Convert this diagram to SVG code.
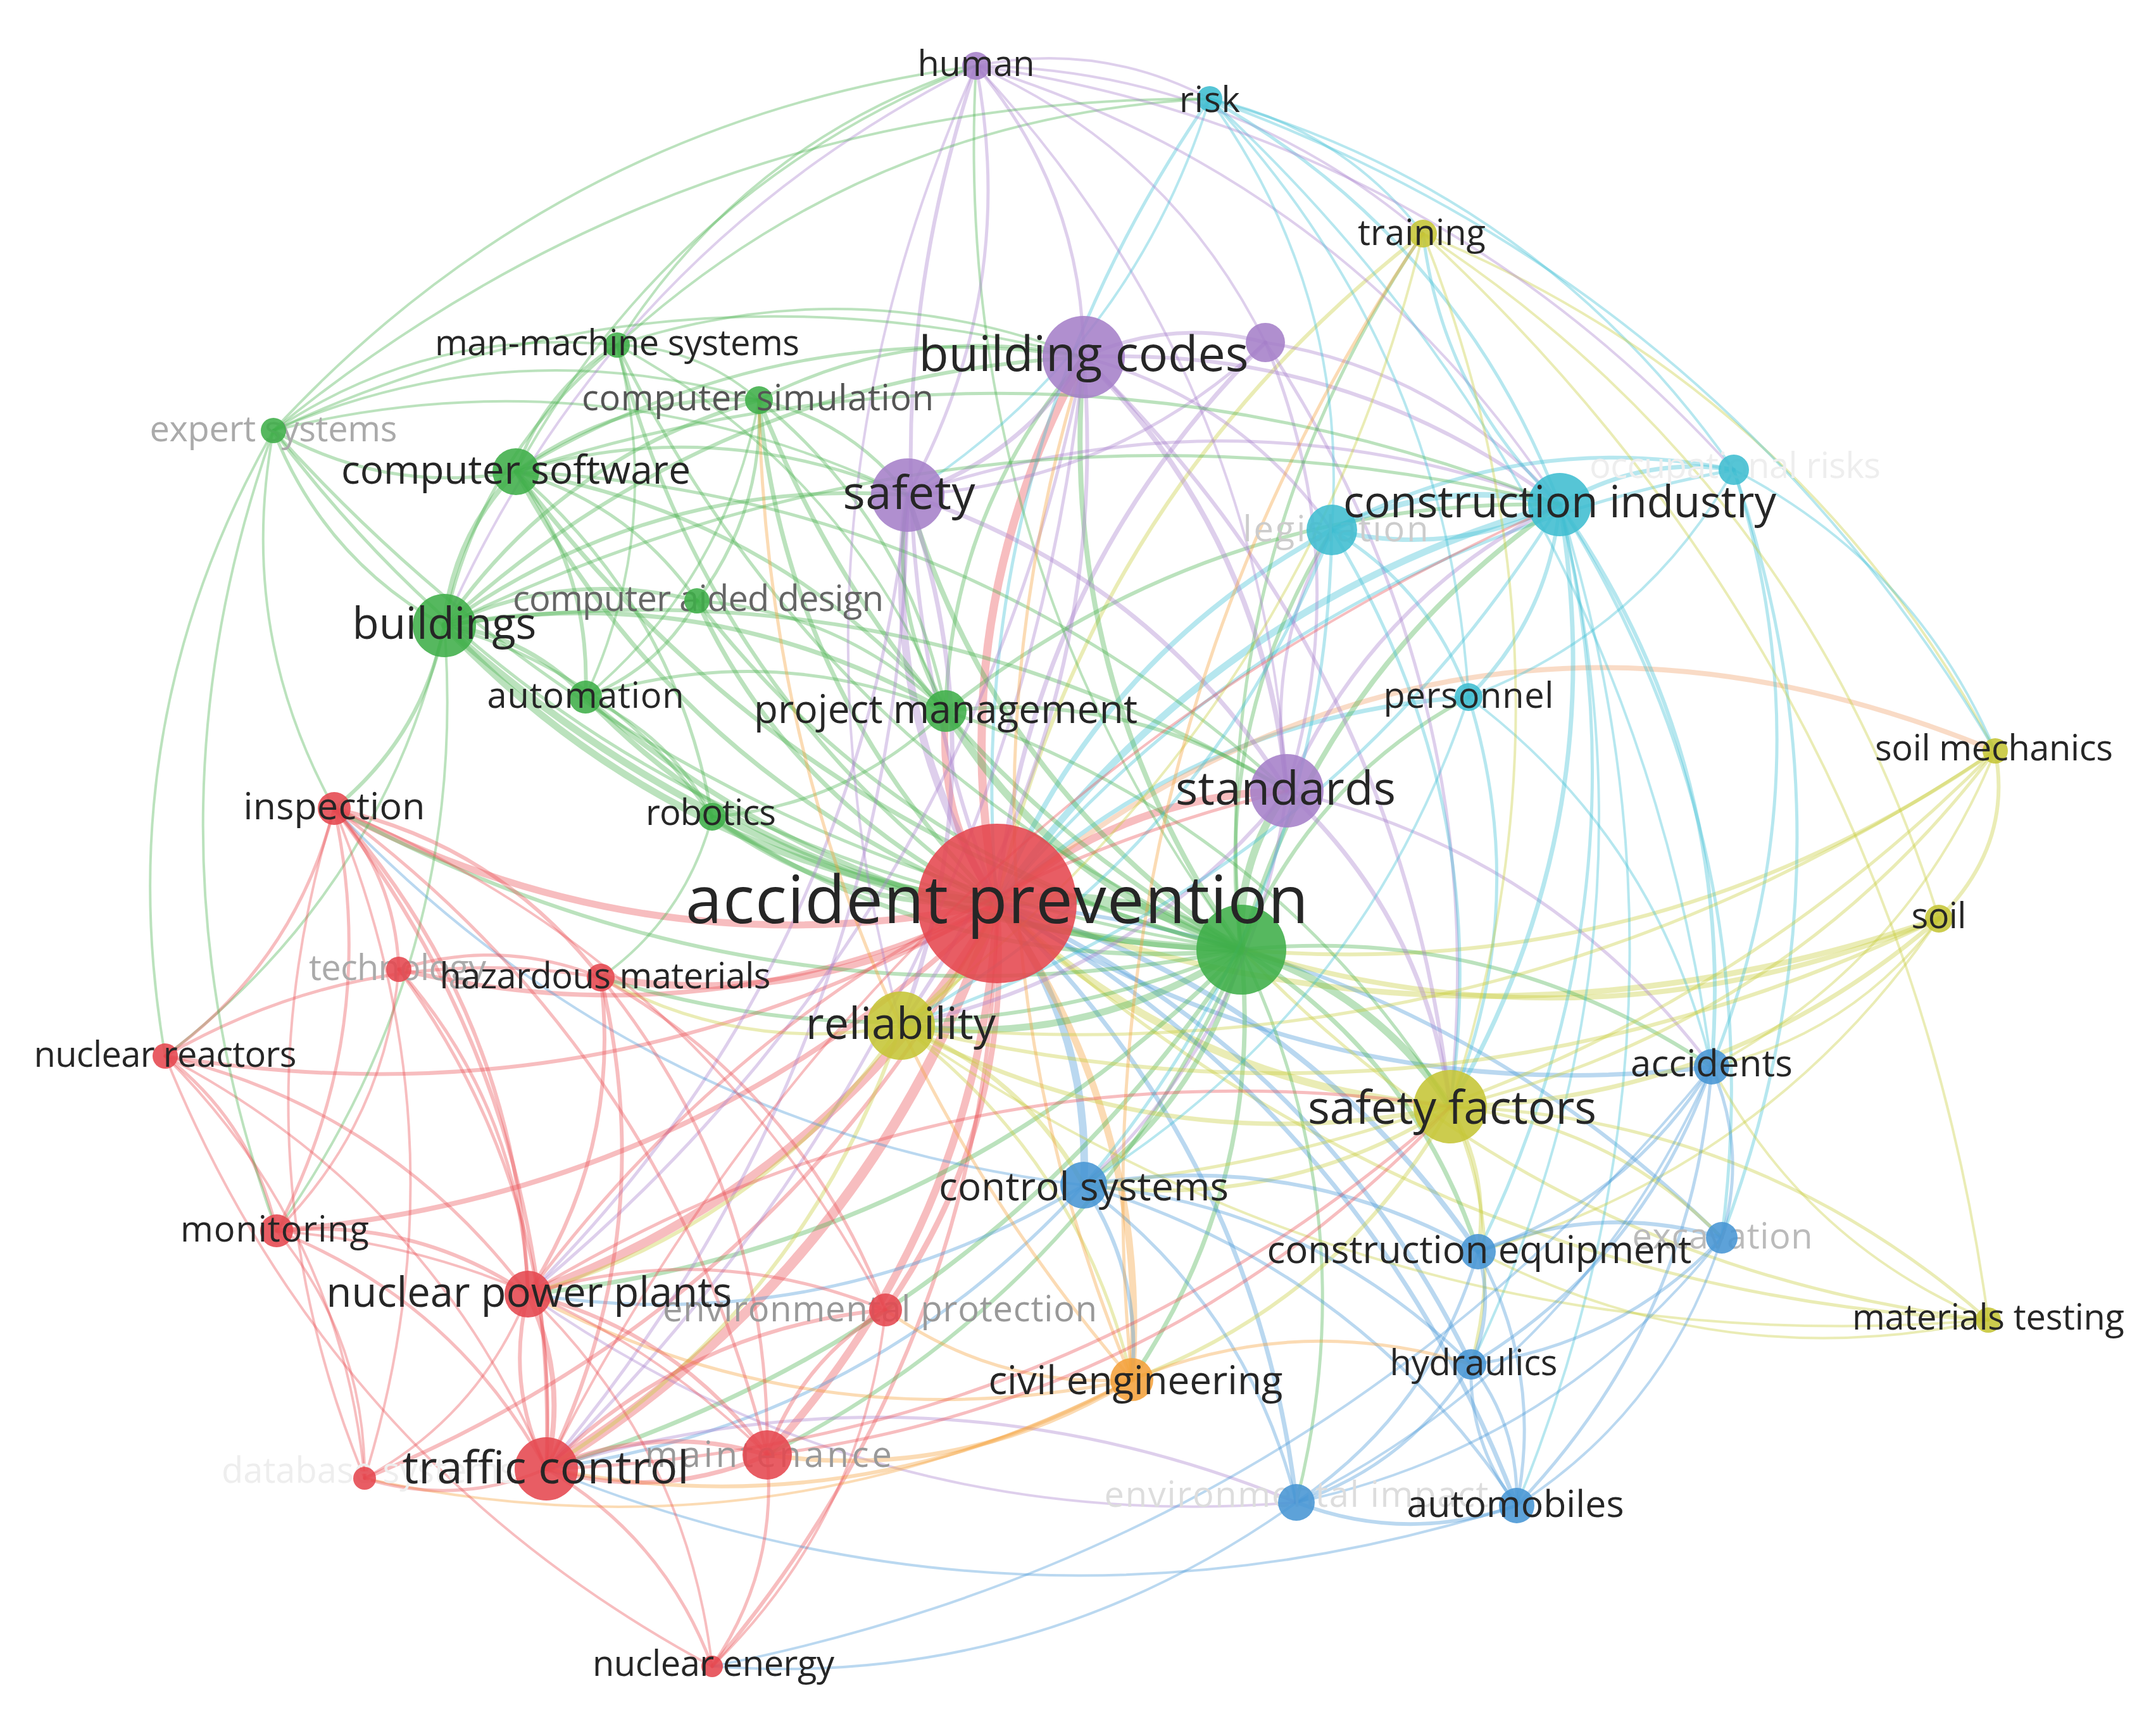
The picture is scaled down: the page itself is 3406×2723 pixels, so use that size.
<svg xmlns="http://www.w3.org/2000/svg" width="3406" height="2723" viewBox="0 0 3406 2723">
<style>
.e path{fill:none;stroke-opacity:.38;stroke-linecap:round}
.e path[stroke-width="2"]{stroke-width:4px}
.e path[stroke-width="3"]{stroke-width:5px}
.e path[stroke-width="4"]{stroke-width:6px}
.e path[stroke-width="5"]{stroke-width:7px}
.e path[stroke-width="6"]{stroke-width:8px}
.e path[stroke-width="7"]{stroke-width:9px}
.e path[stroke-width="8"]{stroke-width:11px}
.e path[stroke-width="9"]{stroke-width:12px}
.e path[stroke-width="10"]{stroke-width:13px}
.e path[stroke-width="11"]{stroke-width:14px}
.e path[stroke-width="12"]{stroke-width:16px}
.e path[stroke-width="14"]{stroke-width:18px}
.er{stroke:#ea5257}.eg{stroke:#4cb352}.eb{stroke:#4a98d8}.ey{stroke:#c9cc3c}.ep{stroke:#a982cc}.ec{stroke:#3fbfd4}.eo{stroke:#f5a03a}
circle{fill-opacity:.88}
.nr{fill:#e5474f}.ng{fill:#3fae49}.np{fill:#a57fc8}.nc{fill:#3fbdd0}.ny{fill:#c5c535}.nb{fill:#4795d4}.no{fill:#f4a03a}
text{font-family:"Open Sans","Liberation Sans",sans-serif;text-anchor:middle;fill:#262626}
.s{font-size:56px}.m{font-size:62px}.l{font-size:72px}
</style>
<rect width="3406" height="2723" fill="#fff"/>
<g id="edges" class="e">
<path class="er" stroke-width="8" d="M1575 1427Q1025 1540 528 1277"/>
<path class="er" stroke-width="5" d="M1575 1427Q1122 1649 630 1531"/>
<path class="er" stroke-width="8" d="M1575 1427Q1283 1598 949 1544"/>
<path class="er" stroke-width="4" d="M1575 1427Q961 1784 261 1668"/>
<path class="er" stroke-width="6" d="M1575 1427Q1099 1890 437 1944"/>
<path class="er" stroke-width="11" d="M1575 1427Q1316 1869 834 2044"/>
<path class="er" stroke-width="7" d="M1575 1427Q1603 1780 1399 2069"/>
<path class="er" stroke-width="12" d="M1575 1427Q1380 2002 863 2320"/>
<path class="er" stroke-width="9" d="M1575 1427Q1550 1928 1212 2298"/>
<path class="er" stroke-width="4" d="M1575 1427Q1239 2061 576 2335"/>
<path class="er" stroke-width="4" d="M1575 1427Q1567 2110 1125 2632"/>
<path class="eg" stroke-width="14" d="M1575 1427Q1781 1394 1961 1500"/>
<path class="eg" stroke-width="8" d="M1575 1427Q1060 1365 702 988"/>
<path class="eg" stroke-width="5" d="M1575 1427Q1072 1223 815 745"/>
<path class="eg" stroke-width="3" d="M1575 1427Q869 1259 432 680"/>
<path class="eg" stroke-width="4" d="M1575 1427Q1116 1094 975 545"/>
<path class="eg" stroke-width="5" d="M1575 1427Q1244 1097 1199 632"/>
<path class="eg" stroke-width="5" d="M1575 1427Q1252 1273 1101 949"/>
<path class="eg" stroke-width="6" d="M1575 1427Q1191 1381 925 1101"/>
<path class="er" stroke-width="8" d="M1575 1427Q1480 1290 1494 1123"/>
<path class="eg" stroke-width="6" d="M1575 1427Q1325 1440 1125 1290"/>
<path class="ep" stroke-width="4" d="M1575 1427Q1320 772 1542 104"/>
<path class="er" stroke-width="10" d="M1575 1427Q1488 971 1712 564"/>
<path class="ep" stroke-width="5" d="M1575 1427Q1628 908 1999 541"/>
<path class="ep" stroke-width="9" d="M1575 1427Q1388 1130 1434 782"/>
<path class="er" stroke-width="9" d="M1575 1427Q1772 1256 2033 1249"/>
<path class="ec" stroke-width="3" d="M1575 1427Q1514 731 1911 156"/>
<path class="ec" stroke-width="3" d="M1575 1427Q2034 875 2739 742"/>
<path class="ec" stroke-width="8" d="M1575 1427Q1906 952 2464 797"/>
<path class="ec" stroke-width="6" d="M1575 1427Q1733 1037 2104 837"/>
<path class="ec" stroke-width="5" d="M1575 1427Q1889 1130 2320 1101"/>
<path class="ey" stroke-width="4" d="M1575 1427Q1721 777 2248 369"/>
<path class="eo" stroke-width="6" style="stroke:#f0a068" d="M1575 1427Q2291 833 3152 1186"/>
<path class="ey" stroke-width="7" d="M3063 1451Q2315 1707 1575 1427"/>
<path class="ey" stroke-width="11" d="M1575 1427Q1534 1551 1423 1620"/>
<path class="ey" stroke-width="9" d="M2291 1748Q1875 1716 1575 1427"/>
<path class="ey" stroke-width="3" d="M3141 2085Q2240 2038 1575 1427"/>
<path class="eb" stroke-width="5" d="M2704 1685Q2093 1759 1575 1427"/>
<path class="eb" stroke-width="9" d="M1575 1427Q1724 1625 1712 1872"/>
<path class="eb" stroke-width="6" d="M1575 1427Q2054 1565 2335 1977"/>
<path class="eb" stroke-width="4" d="M1575 1427Q2243 1485 2720 1955"/>
<path class="eb" stroke-width="5" d="M1575 1427Q2081 1656 2324 2155"/>
<path class="eb" stroke-width="5" d="M1575 1427Q1982 1815 2048 2373"/>
<path class="eb" stroke-width="5" d="M1575 1427Q2157 1755 2396 2378"/>
<path class="eo" stroke-width="8" d="M1575 1427Q1817 1765 1788 2179"/>
<path class="eg" stroke-width="8" d="M1961 1500Q1240 1471 702 988"/>
<path class="eg" stroke-width="5" d="M1961 1500Q1252 1329 815 745"/>
<path class="eg" stroke-width="3" d="M1961 1500Q1049 1365 432 680"/>
<path class="eg" stroke-width="3" d="M1961 1500Q1296 1200 975 545"/>
<path class="eg" stroke-width="5" d="M1961 1500Q1424 1203 1199 632"/>
<path class="eg" stroke-width="4" d="M1961 1500Q1432 1379 1101 949"/>
<path class="eg" stroke-width="6" d="M1961 1500Q1371 1487 925 1101"/>
<path class="eg" stroke-width="9" d="M1961 1500Q1660 1396 1494 1123"/>
<path class="eg" stroke-width="5" d="M1961 1500Q1505 1545 1125 1290"/>
<path class="eg" stroke-width="6" d="M1961 1500Q1668 1077 1712 564"/>
<path class="eg" stroke-width="6" d="M1961 1500Q1568 1236 1434 782"/>
<path class="eg" stroke-width="9" d="M1961 1500Q1952 1362 2033 1249"/>
<path class="eg" stroke-width="6" d="M1961 1500Q2086 1058 2464 797"/>
<path class="eg" stroke-width="4" d="M1961 1500Q1913 1143 2104 837"/>
<path class="eg" stroke-width="4" d="M1961 1500Q2069 1236 2320 1101"/>
<path class="eg" stroke-width="9" d="M1961 1500Q2171 1565 2291 1748"/>
<path class="eg" stroke-width="8" d="M1961 1500Q1714 1657 1423 1620"/>
<path class="ey" stroke-width="6" d="M3063 1451Q2521 1674 1961 1500"/>
<path class="ey" stroke-width="4" d="M3152 1186Q2613 1557 1961 1500"/>
<path class="eg" stroke-width="4" d="M1961 1500Q2366 1459 2704 1685"/>
<path class="eg" stroke-width="6" d="M1961 1500Q1904 1731 1712 1872"/>
<path class="eg" stroke-width="5" d="M1961 1500Q2234 1671 2335 1977"/>
<path class="eg" stroke-width="4" d="M1961 1500Q1204 1647 528 1277"/>
<path class="eg" stroke-width="4" d="M1961 1500Q1463 1704 949 1544"/>
<path class="eg" stroke-width="5" d="M1961 1500Q1495 1975 834 2044"/>
<path class="eg" stroke-width="5" d="M1961 1500Q1560 2108 863 2320"/>
<path class="eg" stroke-width="5" d="M1961 1500Q1997 1871 1788 2179"/>
<path class="eg" stroke-width="2" d="M1961 1500Q1500 877 1542 104"/>
<path class="eg" stroke-width="3" d="M1961 1500Q1901 883 2248 369"/>
<path class="ey" stroke-width="3" d="M3141 2085Q2446 2005 1961 1500"/>
<path class="eg" stroke-width="4" d="M1961 1500Q1730 2034 1212 2298"/>
<path class="eg" stroke-width="3" d="M1961 1500Q2162 1921 2048 2373"/>
<path class="eg" stroke-width="6" d="M702 988Q715 847 815 745"/>
<path class="eg" stroke-width="3" d="M702 988Q512 883 432 680"/>
<path class="eg" stroke-width="3" d="M702 988Q759 718 975 545"/>
<path class="eg" stroke-width="4" d="M702 988Q886 721 1199 632"/>
<path class="eg" stroke-width="4" d="M702 988Q895 897 1101 949"/>
<path class="eg" stroke-width="5" d="M702 988Q834 1004 925 1101"/>
<path class="eg" stroke-width="5" d="M702 988Q1122 913 1494 1123"/>
<path class="eg" stroke-width="3" d="M702 988Q968 1063 1125 1290"/>
<path class="eg" stroke-width="4" d="M702 988Q667 1164 528 1277"/>
<path class="eg" stroke-width="4" d="M702 988Q1131 594 1712 564"/>
<path class="eg" stroke-width="4" d="M702 988Q1031 753 1434 782"/>
<path class="eg" stroke-width="4" d="M702 988Q1415 879 2033 1249"/>
<path class="eg" stroke-width="2" d="M702 988Q604 1407 261 1668"/>
<path class="eg" stroke-width="2" d="M702 988Q742 1514 437 1944"/>
<path class="eg" stroke-width="3" d="M815 745Q612 782 432 680"/>
<path class="eg" stroke-width="3" d="M815 745Q859 616 975 545"/>
<path class="eg" stroke-width="4" d="M815 745Q987 620 1199 632"/>
<path class="eg" stroke-width="3" d="M815 745Q995 796 1101 949"/>
<path class="eg" stroke-width="4" d="M815 745Q934 903 925 1101"/>
<path class="eg" stroke-width="4" d="M815 745Q1223 812 1494 1123"/>
<path class="eg" stroke-width="3" d="M815 745Q1131 652 1434 782"/>
<path class="eg" stroke-width="3" d="M815 745Q1231 493 1712 564"/>
<path class="eg" stroke-width="3" d="M815 745Q1515 778 2033 1249"/>
<path class="eg" stroke-width="3" d="M815 745Q1068 962 1125 1290"/>
<path class="eg" stroke-width="2" d="M432 680Q679 515 975 545"/>
<path class="eg" stroke-width="2" d="M432 680Q807 518 1199 632"/>
<path class="eg" stroke-width="2" d="M261 1668Q169 1143 432 680"/>
<path class="eg" stroke-width="2" d="M528 1277Q373 996 432 680"/>
<path class="eg" stroke-width="2" d="M975 545Q1103 548 1199 632"/>
<path class="eg" stroke-width="2" d="M975 545Q1179 222 1542 104"/>
<path class="eg" stroke-width="2" d="M975 545Q1373 182 1911 156"/>
<path class="eg" stroke-width="2" d="M975 545Q1050 832 925 1101"/>
<path class="eg" stroke-width="2" d="M975 545Q1339 741 1494 1123"/>
<path class="eg" stroke-width="3" d="M1199 632Q1207 808 1101 949"/>
<path class="eg" stroke-width="3" d="M1199 632Q1435 824 1494 1123"/>
<path class="eg" stroke-width="2" d="M1199 632Q1146 916 925 1101"/>
<path class="eg" stroke-width="3" d="M1199 632Q1443 506 1712 564"/>
<path class="eg" stroke-width="3" d="M1199 632Q1344 665 1434 782"/>
<path class="eg" stroke-width="3" d="M1101 949Q1040 1057 925 1101"/>
<path class="eg" stroke-width="3" d="M1101 949Q1329 965 1494 1123"/>
<path class="eg" stroke-width="3" d="M925 1101Q1214 1010 1494 1123"/>
<path class="eg" stroke-width="3" d="M925 1101Q1059 1160 1125 1290"/>
<path class="eg" stroke-width="3" d="M1494 1123Q1340 1273 1125 1290"/>
<path class="eg" stroke-width="4" d="M1494 1123Q1403 964 1434 782"/>
<path class="eg" stroke-width="4" d="M1494 1123Q1502 805 1712 564"/>
<path class="eg" stroke-width="4" d="M1494 1123Q1787 1089 2033 1249"/>
<path class="eg" stroke-width="4" d="M1494 1123Q1920 785 2464 797"/>
<path class="eg" stroke-width="3" d="M1494 1123Q2005 1292 2291 1748"/>
<path class="eg" stroke-width="2" d="M1125 1290Q1083 1449 949 1544"/>
<path class="ep" stroke-width="3" d="M1542 104Q1710 303 1712 564"/>
<path class="ep" stroke-width="3" d="M1542 104Q1610 462 1434 782"/>
<path class="ep" stroke-width="2" d="M1542 104Q1994 588 2033 1249"/>
<path class="ep" stroke-width="2" d="M1542 104Q1736 64 1911 156"/>
<path class="ep" stroke-width="2" d="M1542 104Q1943 110 2248 369"/>
<path class="ep" stroke-width="2" d="M1542 104Q1849 240 1999 541"/>
<path class="ep" stroke-width="2" d="M1542 104Q2128 285 2464 797"/>
<path class="ep" stroke-width="2" d="M702 988Q963 395 1542 104"/>
<path class="ep" stroke-width="2" d="M1423 1620Q1210 841 1542 104"/>
<path class="ep" stroke-width="5" d="M1712 564Q1612 723 1434 782"/>
<path class="ep" stroke-width="6" d="M1712 564Q1996 849 2033 1249"/>
<path class="ep" stroke-width="4" d="M1712 564Q1852 501 1999 541"/>
<path class="ep" stroke-width="4" d="M1712 564Q2130 545 2464 797"/>
<path class="ep" stroke-width="3" d="M1712 564Q1957 630 2104 837"/>
<path class="ep" stroke-width="4" d="M1712 564Q2215 1052 2291 1748"/>
<path class="ep" stroke-width="4" d="M1712 564Q1758 1144 1423 1620"/>
<path class="ep" stroke-width="3" d="M1712 564Q1604 1595 863 2320"/>
<path class="ep" stroke-width="3" d="M1712 564Q1539 1462 834 2044"/>
<path class="ep" stroke-width="3" d="M1999 541Q2143 889 2033 1249"/>
<path class="ep" stroke-width="3" d="M1999 541Q1760 764 1434 782"/>
<path class="ep" stroke-width="3" d="M1999 541Q2278 585 2464 797"/>
<path class="ep" stroke-width="3" d="M1999 541Q2362 1092 2291 1748"/>
<path class="ep" stroke-width="5" d="M1434 782Q1818 908 2033 1249"/>
<path class="ep" stroke-width="5" d="M1434 782Q1580 1203 1423 1620"/>
<path class="ep" stroke-width="3" d="M1434 782Q1361 1521 834 2044"/>
<path class="ep" stroke-width="3" d="M1434 782Q1952 604 2464 797"/>
<path class="ep" stroke-width="3" d="M1434 782Q1426 1654 863 2320"/>
<path class="ep" stroke-width="4" d="M2033 1249Q2168 945 2464 797"/>
<path class="ep" stroke-width="5" d="M2033 1249Q2252 1452 2291 1748"/>
<path class="ep" stroke-width="4" d="M2033 1249Q1795 1544 1423 1620"/>
<path class="ep" stroke-width="3" d="M2033 1249Q1995 1030 2104 837"/>
<path class="ep" stroke-width="3" d="M2033 1249Q1985 1618 1712 1872"/>
<path class="ep" stroke-width="3" d="M2033 1249Q2447 1346 2704 1685"/>
<path class="ec" stroke-width="3" d="M1911 156Q2303 377 2464 797"/>
<path class="ec" stroke-width="2" d="M1911 156Q2430 300 2739 742"/>
<path class="ec" stroke-width="2" d="M1911 156Q2118 202 2248 369"/>
<path class="ec" stroke-width="2" d="M1911 156Q2286 555 2320 1101"/>
<path class="ec" stroke-width="2" d="M1911 156Q2583 778 2704 1685"/>
<path class="ec" stroke-width="2" d="M1911 156Q1786 555 1434 782"/>
<path class="ec" stroke-width="2" d="M1911 156Q2131 462 2104 837"/>
<path class="ec" stroke-width="5" d="M2464 797Q2592 720 2739 742"/>
<path class="ec" stroke-width="5" d="M2464 797Q2291 882 2104 837"/>
<path class="ec" stroke-width="7" d="M2104 837Q2277 752 2464 797"/>
<path class="ec" stroke-width="4" d="M2464 797Q2447 975 2320 1101"/>
<path class="ec" stroke-width="4" d="M2464 797Q2744 1198 2704 1685"/>
<path class="ec" stroke-width="5" d="M2464 797Q2549 1304 2291 1748"/>
<path class="ec" stroke-width="3" d="M2464 797Q2612 1410 2335 1977"/>
<path class="ec" stroke-width="3" d="M2464 797Q2800 1330 2720 1955"/>
<path class="ec" stroke-width="3" d="M2464 797Q2279 622 2248 369"/>
<path class="ec" stroke-width="2" d="M2464 797Q2638 1501 2324 2155"/>
<path class="ec" stroke-width="2" d="M2464 797Q2715 1600 2396 2378"/>
<path class="ec" stroke-width="3" d="M2739 742Q2891 1220 2704 1685"/>
<path class="ec" stroke-width="4" d="M2104 837Q2405 676 2739 742"/>
<path class="ec" stroke-width="2" d="M2739 742Q2595 997 2320 1101"/>
<path class="ec" stroke-width="3" d="M2739 742Q2948 1352 2720 1955"/>
<path class="ec" stroke-width="3" d="M2104 837Q2260 930 2320 1101"/>
<path class="ec" stroke-width="3" d="M2104 837Q2362 1259 2291 1748"/>
<path class="ec" stroke-width="3" d="M2104 837Q1905 1351 1423 1620"/>
<path class="ec" stroke-width="3" d="M2320 1101Q2422 1430 2291 1748"/>
<path class="ec" stroke-width="2" d="M2320 1101Q2617 1324 2704 1685"/>
<path class="ey" stroke-width="2" d="M2248 369Q2518 1051 2291 1748"/>
<path class="ey" stroke-width="2" d="M2248 369Q2850 763 3063 1451"/>
<path class="ey" stroke-width="2" d="M2248 369Q2061 1143 1423 1620"/>
<path class="ey" stroke-width="2" d="M2248 369Q2847 615 3152 1186"/>
<path class="ey" stroke-width="4" d="M3152 1186Q3180 1335 3063 1451"/>
<path class="ey" stroke-width="3" d="M3152 1186Q2823 1622 2291 1748"/>
<path class="ey" stroke-width="2" d="M3152 1186Q3018 1516 2704 1685"/>
<path class="ey" stroke-width="3" d="M3152 1186Q2366 1714 1423 1620"/>
<path class="ey" stroke-width="5" d="M3063 1451Q2730 1739 2291 1748"/>
<path class="ey" stroke-width="4" d="M3063 1451Q2273 1831 1423 1620"/>
<path class="ey" stroke-width="2" d="M3063 1451Q2926 1633 2704 1685"/>
<path class="ey" stroke-width="2" d="M3063 1451Q2794 1845 2335 1977"/>
<path class="ey" stroke-width="5" d="M2291 1748Q1834 1840 1423 1620"/>
<path class="ey" stroke-width="4" d="M2291 1748Q2354 1855 2335 1977"/>
<path class="ey" stroke-width="3" d="M2291 1748Q2381 1946 2324 2155"/>
<path class="ey" stroke-width="3" d="M2291 1748Q2777 1764 3141 2085"/>
<path class="ey" stroke-width="4" d="M2291 1748Q2024 1914 1712 1872"/>
<path class="ey" stroke-width="4" d="M2291 1748Q2118 2054 1788 2179"/>
<path class="ey" stroke-width="3" d="M2291 1748Q2543 1774 2720 1955"/>
<path class="ey" stroke-width="5" d="M1423 1620Q1613 1694 1712 1872"/>
<path class="ey" stroke-width="4" d="M1423 1620Q1205 1938 834 2044"/>
<path class="ey" stroke-width="4" d="M1423 1620Q1269 2071 863 2320"/>
<path class="ey" stroke-width="3" d="M1423 1620Q1707 1834 1788 2179"/>
<path class="ey" stroke-width="3" d="M1423 1620Q1172 1667 949 1544"/>
<path class="ey" stroke-width="2" d="M3141 2085Q2851 1964 2704 1685"/>
<path class="ey" stroke-width="2" d="M3141 2085Q2719 2176 2335 1977"/>
<path class="ey" stroke-width="2" d="M2248 369Q3003 1066 3141 2085"/>
<path class="ey" stroke-width="3" d="M3152 1186Q2555 1788 1712 1872"/>
<path class="ey" stroke-width="2" d="M3141 2085Q2198 2162 1423 1620"/>
<path class="eb" stroke-width="3" d="M2704 1685Q2572 1897 2335 1977"/>
<path class="eb" stroke-width="3" d="M2704 1685Q2761 1817 2720 1955"/>
<path class="eb" stroke-width="3" d="M2704 1685Q2599 1988 2324 2155"/>
<path class="eb" stroke-width="3" d="M2704 1685Q2675 2087 2396 2378"/>
<path class="eb" stroke-width="2" d="M2704 1685Q2500 2147 2048 2373"/>
<path class="eb" stroke-width="4" d="M1712 1872Q2043 1813 2335 1977"/>
<path class="eb" stroke-width="3" d="M1712 1872Q2069 1903 2324 2155"/>
<path class="eb" stroke-width="3" d="M1712 1872Q1970 2062 2048 2373"/>
<path class="eb" stroke-width="3" d="M1712 1872Q2145 2002 2396 2378"/>
<path class="eb" stroke-width="4" d="M1712 1872Q1805 2012 1788 2179"/>
<path class="eb" stroke-width="3" d="M1712 1872Q1368 2249 863 2320"/>
<path class="eb" stroke-width="3" d="M1712 1872Q1304 2116 834 2044"/>
<path class="eb" stroke-width="2" d="M1712 1872Q1013 1788 528 1277"/>
<path class="eb" stroke-width="4" d="M2335 1977Q2524 1897 2720 1955"/>
<path class="eb" stroke-width="4" d="M2335 1977Q2362 2068 2324 2155"/>
<path class="eb" stroke-width="3" d="M2335 1977Q2438 2167 2396 2378"/>
<path class="eb" stroke-width="3" d="M2335 1977Q2263 2227 2048 2373"/>
<path class="eb" stroke-width="3" d="M2720 1955Q2558 2126 2324 2155"/>
<path class="eb" stroke-width="2" d="M2720 1955Q2634 2225 2396 2378"/>
<path class="eb" stroke-width="2" d="M2720 1955Q2459 2285 2048 2373"/>
<path class="eb" stroke-width="3" d="M2324 2155Q2400 2254 2396 2378"/>
<path class="eb" stroke-width="3" d="M2396 2378Q2320 2280 2324 2155"/>
<path class="eb" stroke-width="3" d="M2324 2155Q2225 2314 2048 2373"/>
<path class="eb" stroke-width="4" d="M2396 2378Q2221 2439 2048 2373"/>
<path class="ep" stroke-width="2" d="M2048 2373Q1382 2427 834 2044"/>
<path class="ep" stroke-width="3" d="M863 2320Q1466 2134 2048 2373"/>
<path class="eb" stroke-width="2" d="M2048 2373Q1633 2669 1125 2632"/>
<path class="eb" stroke-width="2" d="M2704 1685Q2085 2443 1125 2632"/>
<path class="eb" stroke-width="2" d="M2396 2378Q1619 2625 863 2320"/>
<path class="eo" stroke-width="4" d="M1788 2179Q1351 2416 863 2320"/>
<path class="eo" stroke-width="3" d="M1788 2179Q1287 2283 834 2044"/>
<path class="eo" stroke-width="5" d="M1788 2179Q1521 2342 1212 2298"/>
<path class="eo" stroke-width="3" d="M1788 2179Q1574 2194 1399 2069"/>
<path class="eo" stroke-width="3" d="M1788 2179Q1459 1386 1712 564"/>
<path class="eo" stroke-width="3" d="M1788 2179Q1692 1191 2248 369"/>
<path class="eo" stroke-width="3" d="M1788 2179Q2052 2071 2324 2155"/>
<path class="eo" stroke-width="2" d="M1788 2179Q1210 2475 576 2335"/>
<path class="eo" stroke-width="3" d="M1788 2179Q1215 1512 1199 632"/>
<path class="er" stroke-width="3" d="M528 1277Q625 1386 630 1531"/>
<path class="er" stroke-width="4" d="M528 1277Q787 1335 949 1544"/>
<path class="er" stroke-width="3" d="M528 1277Q465 1521 261 1668"/>
<path class="er" stroke-width="3" d="M528 1277Q603 1627 437 1944"/>
<path class="er" stroke-width="4" d="M528 1277Q819 1606 834 2044"/>
<path class="er" stroke-width="4" d="M528 1277Q884 1738 863 2320"/>
<path class="er" stroke-width="3" d="M528 1277Q1054 1665 1212 2298"/>
<path class="er" stroke-width="2" d="M528 1277Q742 1797 576 2335"/>
<path class="er" stroke-width="2" d="M528 1277Q1106 1516 1399 2069"/>
<path class="er" stroke-width="3" d="M630 1531Q792 1480 949 1544"/>
<path class="er" stroke-width="3" d="M630 1531Q824 1751 834 2044"/>
<path class="er" stroke-width="3" d="M630 1531Q889 1884 863 2320"/>
<path class="er" stroke-width="2" d="M630 1531Q608 1773 437 1944"/>
<path class="er" stroke-width="4" d="M949 1544Q982 1815 834 2044"/>
<path class="er" stroke-width="4" d="M949 1544Q1046 1947 863 2320"/>
<path class="er" stroke-width="3" d="M949 1544Q1217 1874 1212 2298"/>
<path class="er" stroke-width="3" d="M949 1544Q1269 1726 1399 2069"/>
<path class="er" stroke-width="3" d="M261 1668Q399 1774 437 1944"/>
<path class="er" stroke-width="3" d="M261 1668Q615 1753 834 2044"/>
<path class="er" stroke-width="2" d="M261 1668Q679 1886 863 2320"/>
<path class="er" stroke-width="2" d="M261 1668Q539 1945 576 2335"/>
<path class="er" stroke-width="3" d="M261 1668Q583 1482 949 1544"/>
<path class="er" stroke-width="4" d="M437 1944Q654 1923 834 2044"/>
<path class="er" stroke-width="3" d="M437 1944Q718 2055 863 2320"/>
<path class="er" stroke-width="2" d="M437 1944Q577 2115 576 2335"/>
<path class="er" stroke-width="2" d="M437 1944Q888 1981 1212 2298"/>
<path class="er" stroke-width="6" d="M834 2044Q898 2177 863 2320"/>
<path class="er" stroke-width="4" d="M863 2320Q798 2187 834 2044"/>
<path class="er" stroke-width="4" d="M834 2044Q1069 2103 1212 2298"/>
<path class="er" stroke-width="3" d="M834 2044Q1121 1955 1399 2069"/>
<path class="er" stroke-width="2" d="M834 2044Q1085 2286 1125 2632"/>
<path class="er" stroke-width="2" d="M834 2044Q757 2236 576 2335"/>
<path class="er" stroke-width="5" d="M863 2320Q1034 2246 1212 2298"/>
<path class="er" stroke-width="5" d="M1212 2298Q1042 2372 863 2320"/>
<path class="er" stroke-width="4" d="M863 2320Q1086 2098 1399 2069"/>
<path class="er" stroke-width="3" d="M863 2320Q1050 2429 1125 2632"/>
<path class="er" stroke-width="3" d="M863 2320Q723 2380 576 2335"/>
<path class="er" stroke-width="4" d="M1212 2298Q1265 2150 1399 2069"/>
<path class="er" stroke-width="3" d="M1212 2298Q1229 2481 1125 2632"/>
<path class="er" stroke-width="2" d="M1399 2069Q1363 2400 1125 2632"/>
<path class="er" stroke-width="3" d="M2291 1748Q1851 2217 1212 2298"/>
<path class="er" stroke-width="3" d="M2291 1748Q1680 2291 863 2320"/>
<path class="er" stroke-width="2" d="M863 2320Q1390 1271 2464 797"/>
<path class="er" stroke-width="3" d="M834 2044Q1509 1634 2291 1748"/>
<path class="er" stroke-width="3" d="M834 2044Q1290 1430 2033 1249"/>
<path class="er" stroke-width="2" d="M576 2335Q362 1815 528 1277"/>
<path class="er" stroke-width="2" d="M1125 2632Q519 2306 261 1668"/>
<path class="eg" stroke-width="2" d="M432 680Q883 192 1542 104"/>
<path class="eg" stroke-width="2" d="M432 680Q1077 152 1911 156"/>
<path class="eg" stroke-width="2" d="M815 745Q1063 293 1542 104"/>
<path class="ep" stroke-width="2" d="M1542 104Q2255 208 2739 742"/>
<path class="ec" stroke-width="2" d="M1911 156Q2717 448 3152 1186"/>
<path class="ec" stroke-width="2" d="M2739 742Q3025 890 3152 1186"/>
<path class="eg" stroke-width="2" d="M437 1944Q207 1311 432 680"/>
<path class="eg" stroke-width="2" d="M432 680Q1051 392 1712 564"/>
<path class="eg" stroke-width="2" d="M432 680Q951 551 1434 782"/>
<path class="eg" stroke-width="2" d="M975 545Q1347 422 1712 564"/>
<path class="eg" stroke-width="3" d="M815 745Q1649 474 2464 797"/>
<path class="eg" stroke-width="3" d="M702 988Q1549 575 2464 797"/>
<path class="ec" stroke-width="3" d="M2464 797Q2092 1396 1423 1620"/>
<path class="ec" stroke-width="3" d="M2104 837Q2094 1425 1712 1872"/>
<path class="ec" stroke-width="2" d="M2320 1101Q2155 1596 1712 1872"/>
</g>
<g id="n-occupational-risks"><text class="s" x="2741" y="755" textLength="460" style="fill:#eeeeee">occupational risks</text><circle class="nc" cx="2739" cy="742" r="24"/></g>
<g id="n-legislation"><text class="s" x="2110" y="855" textLength="293" style="fill:#cccccc">legislation</text><circle class="nc" cx="2104" cy="837" r="40"/></g>
<g id="n-database-systems"><text class="s" x="583" y="2342" textLength="466" style="fill:#eeeeee">database systems</text><circle class="nr" cx="576" cy="2335" r="18"/></g>
<g id="n-environmental-impact"><text class="s" x="2048" y="2380" textLength="607" style="fill:#dddddd">environmental impact</text><circle class="nb" cx="2048" cy="2373" r="29"/></g>
<g id="n-excavation"><text class="s" x="2721" y="1972" textLength="285" style="fill:#bbbbbb">excavation</text><circle class="nb" cx="2720" cy="1955" r="25"/></g>
<g id="n-technology"><text class="s" x="628" y="1548" textLength="280" style="fill:#aaaaaa">technology</text><circle class="nr" cx="630" cy="1531" r="20"/></g>
<g id="n-environmental-protection"><text class="s" x="1390" y="2087" textLength="686" style="fill:#999999">environmental protection</text><circle class="nr" cx="1399" cy="2069" r="26"/></g>
<g id="n-maintenance"><text class="s" x="1214" y="2317" textLength="390" style="fill:#999999">maintenance</text><circle class="nr" cx="1212" cy="2298" r="39"/></g>
<g id="n-expert-systems"><text class="s" x="432" y="697" textLength="391" style="fill:#aaaaaa">expert systems</text><circle class="ng" cx="432" cy="680" r="20"/></g>
<g id="n-computer-aided-design"><text class="s" x="1103" y="965" textLength="586" style="fill:#666666">computer aided design</text><circle class="ng" cx="1101" cy="949" r="20"/></g>
<g id="n-computer-simulation"><circle class="ng" cx="1199" cy="632" r="22"/><text class="s" x="1197" y="648" textLength="556" style="fill:#555555">computer simulation</text></g>
<g id="n-purple-unlabeled"><circle class="np" cx="1999" cy="541" r="31"/></g>
<g id="n-green-unlabeled"><circle class="ng" cx="1961" cy="1500" r="71"/></g>
<g id="n-human"><circle class="np" cx="1542" cy="104" r="22"/><text class="s" x="1542" y="120" textLength="185">human</text></g>
<g id="n-risk"><circle class="nc" cx="1911" cy="156" r="20"/><text class="s" x="1911" y="177" textLength="96">risk</text></g>
<g id="n-training"><circle class="ny" cx="2248" cy="369" r="22"/><text class="s" x="2246" y="387" textLength="202">training</text></g>
<g id="n-man-machine-systems"><circle class="ng" cx="975" cy="545" r="20"/><text class="s" x="975" y="561" textLength="576">man-machine systems</text></g>
<g id="n-personnel"><circle class="nc" cx="2320" cy="1101" r="22"/><text class="s" x="2320" y="1118" textLength="269">personnel</text></g>
<g id="n-soil-mechanics"><circle class="ny" cx="3152" cy="1186" r="20"/><text class="s" x="3150" y="1201" textLength="376">soil mechanics</text></g>
<g id="n-soil"><circle class="ny" cx="3063" cy="1451" r="22"/><text class="s" x="3063" y="1466" textLength="87">soil</text></g>
<g id="n-robotics"><circle class="ng" cx="1125" cy="1290" r="22"/><text class="s" x="1123" y="1303" textLength="206">robotics</text></g>
<g id="n-automation"><circle class="ng" cx="925" cy="1101" r="26"/><text class="s" x="925" y="1118" textLength="311">automation</text></g>
<g id="n-hazardous-materials"><circle class="nr" cx="949" cy="1544" r="22"/><text class="s" x="956" y="1561" textLength="523">hazardous materials</text></g>
<g id="n-nuclear-reactors"><circle class="nr" cx="261" cy="1668" r="20"/><text class="s" x="261" y="1685" textLength="415">nuclear reactors</text></g>
<g id="n-monitoring"><circle class="nr" cx="437" cy="1944" r="26"/><text class="s" x="434" y="1961" textLength="298">monitoring</text></g>
<g id="n-nuclear-energy"><circle class="nr" cx="1125" cy="2632" r="17"/><text class="s" x="1127" y="2647" textLength="382">nuclear energy</text></g>
<g id="n-inspection"><circle class="nr" cx="528" cy="1277" r="26"/><text class="s" x="528" y="1294" textLength="287" style="font-size:59px">inspection</text></g>
<g id="n-accidents"><circle class="nb" cx="2704" cy="1685" r="28"/><text class="s" x="2704" y="1700" textLength="256" style="font-size:58px">accidents</text></g>
<g id="n-materials-testing"><circle class="ny" cx="3141" cy="2085" r="20"/><text class="s" x="3141" y="2100" textLength="430">materials testing</text></g>
<g id="n-hydraulics"><circle class="nb" cx="2324" cy="2155" r="24"/><text class="s" x="2328" y="2172" textLength="265">hydraulics</text></g>
<g id="n-automobiles"><circle class="nb" cx="2396" cy="2378" r="28"/><text class="s" x="2394" y="2396" textLength="343" style="font-size:59px">automobiles</text></g>
<g id="n-construction-equipment"><circle class="nb" cx="2335" cy="1977" r="28"/><text class="s" x="2337" y="1995" textLength="671" style="font-size:60px">construction equipment</text></g>
<g id="n-civil-engineering"><circle class="no" cx="1788" cy="2179" r="34"/><text class="m" x="1794" y="2202" textLength="465">civil engineering</text></g>
<g id="n-control-systems"><circle class="nb" cx="1712" cy="1872" r="37"/><text class="m" x="1712" y="1896" textLength="458">control systems</text></g>
<g id="n-project-management"><circle class="ng" cx="1494" cy="1123" r="33"/><text class="m" x="1494" y="1142" textLength="606">project management</text></g>
<g id="n-computer-software"><circle class="ng" cx="815" cy="745" r="37"/><text class="m" x="815" y="764" textLength="552">computer software</text></g>
<g id="n-nuclear-power-plants"><circle class="nr" cx="834" cy="2044" r="37"/><text class="m" x="836" y="2064" textLength="641" style="font-size:65px">nuclear power plants</text></g>
<g id="n-traffic-control"><circle class="nr" cx="863" cy="2320" r="50"/><text class="l" x="862" y="2343" textLength="453">traffic control</text></g>
<g id="n-buildings"><circle class="ng" cx="702" cy="988" r="50"/><text class="l" x="702" y="1009" textLength="291" style="font-size:69px">buildings</text></g>
<g id="n-reliability"><circle class="ny" cx="1423" cy="1620" r="54"/><text class="l" x="1423" y="1641" textLength="300" style="font-size:70px">reliability</text></g>
<g id="n-construction-industry"><circle class="nc" cx="2464" cy="797" r="50"/><text class="l" x="2464" y="817" textLength="684" style="font-size:69px">construction industry</text></g>
<g id="n-safety"><circle class="np" cx="1434" cy="782" r="58"/><text class="l" x="1436" y="804" textLength="209" style="font-size:74px">safety</text></g>
<g id="n-standards"><circle class="np" cx="2033" cy="1249" r="58"/><text class="l" x="2031" y="1271" textLength="348" style="font-size:74px">standards</text></g>
<g id="n-safety-factors"><circle class="ny" cx="2291" cy="1748" r="58"/><text class="l" x="2294" y="1775" textLength="456" style="font-size:73px">safety factors</text></g>
<g id="n-building-codes"><circle class="np" cx="1712" cy="564" r="65"/><text x="1712" y="586" textLength="521" style="font-size:77px">building codes</text></g>
<g id="n-accident-prevention"><circle class="nr" cx="1575" cy="1427" r="126"/><text x="1575" y="1458" textLength="984" style="font-size:104px">accident prevention</text></g>
</svg>
